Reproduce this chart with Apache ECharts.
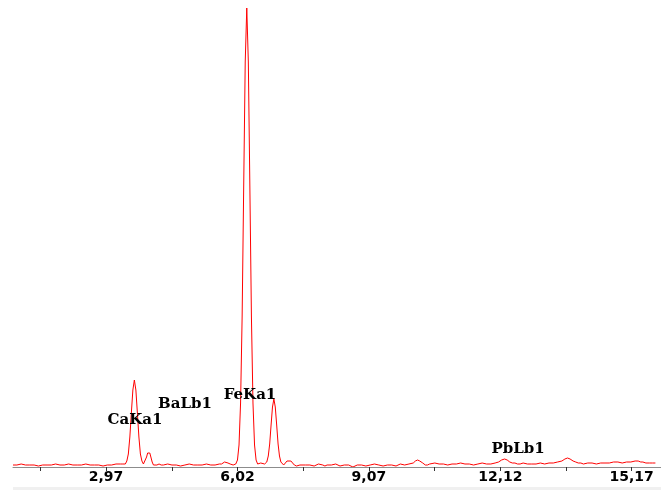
<!DOCTYPE html>
<html>
<head>
<meta charset="utf-8">
<script src="https://cdn.jsdelivr.net/npm/echarts@6/dist/echarts.min.js"></script>
<style>
html,body{margin:0;padding:0;background:#fff;}
#chart{width:661px;height:490px;}
</style>
</head>
<body>
<div id="chart"></div>
<script>
// Energy (keV) of each sampled point
var energy = [
0.81,0.9,1.0,1.1,1.2,1.3,1.4,1.5,1.6,1.7,1.8,1.9,2.0,2.1,2.2,2.3,2.4,2.5,2.6,2.7,2.8,2.9,3.0,3.1,3.2,3.3,3.36,
3.417,3.452,3.487,3.522,3.557,3.592,3.627,3.662,3.697,3.732,3.767,3.802,3.837,
3.88,3.91,3.935,3.96,3.985,4.01,4.04,4.07,4.10,4.15,4.2,4.25,4.3,
4.4,4.5,4.6,4.7,4.8,4.9,5.0,5.1,5.2,5.3,5.4,5.5,5.6,
5.65,5.72,5.76,5.80,5.85,5.92,5.98,
6.020,6.056,6.092,6.128,6.164,6.200,6.236,6.272,6.308,6.344,6.380,6.416,6.452,6.488,6.524,
6.56,6.60,6.65,6.70,
6.735,6.7675,6.80,6.8325,6.865,6.8975,6.93,6.9625,6.995,7.0275,7.06,7.0925,7.125,
7.17,7.21,7.26,7.30,7.34,7.39,7.43,7.47,
7.5,7.6,7.7,7.8,7.9,8.0,8.05,8.1,8.2,8.3,8.4,8.5,8.6,8.7,8.8,8.9,9.0,9.1,9.2,9.3,9.4,9.5,9.6,9.7,9.8,9.9,10.0,
10.10,10.15,10.20,10.25,10.32,10.38,10.43,10.48,10.52,
10.6,10.7,10.8,10.9,11.0,11.1,11.2,11.3,11.4,11.5,11.6,11.7,11.8,11.9,12.0,
12.08,12.15,12.22,12.28,12.34,12.40,12.46,12.52,12.58,12.65,12.75,12.85,12.95,13.05,13.15,13.25,
13.35,13.45,13.55,13.62,13.68,13.74,13.81,13.87,13.93,13.99,14.05,14.15,14.25,14.35,14.45,14.55,14.65,14.75,14.85,14.95,15.05,15.15,
15.25,15.32,15.38,15.43,15.5,15.58,15.65,15.72,15.8,15.85
];
// Counts at each energy
var counts = [
2,2,3,2,2,2,1,2,2,2,3,2,2,3,2,2,2,3,2,2,2,1,2,2,3,3,3,
3,6,13,30,54,77,87,77,54,30,13,6,3,
5,10,14,16,14,10,5,2,1,2,3,2,2,
3,2,2,1,2,3,2,2,2,3,2,2,3,
3,5,6,4,3,2,3,
7,22,64,150,279,405,459,405,279,150,64,22,7,
3,2,4,3,
3,5,11,23,42,60,68,60,42,23,11,5,3,
2,4,6,7,6,4,2,1,
1,2,0,2,2,1,3,2,1,2,2,3,1,2,2,0,2,2,1,2,3,2,1,2,2,1,3,
2,3,4,6,7,6,4,2,2,
3,3,4,3,3,2,3,3,4,3,3,2,3,4,3,
3,4,5,7,8,7,5,4,4,3,3,4,3,3,3,4,
3,4,4,5,6,8,9,8,6,5,4,4,3,4,4,3,4,4,4,5,5,4,
5,5,6,6,5,5,4,4,4,4
];
// Axis ticks and labels
var tickValues = [1.445,2.97,4.495,6.02,7.545,9.07,10.595,12.12,13.645,15.17];
var labelValues = [2.97,6.02,9.07,12.12,15.17];
var labelTexts = ['2,97','6,02','9,07','12,12','15,17'];
// Peak annotations
var peakNames = ['CaKa1','BaLb1','FeKa1','PbLb1'];

var pts = energy.map(function(e,i){return [e, counts[i]];});
var chart = echarts.init(document.getElementById('chart'));
var annotFont = 'bold 15px "DejaVu Serif"';
var annotPos = [[135,420],[185,404],[250,395],[518,449]];
chart.setOption({
  animation:false,
  backgroundColor:'#ffffff',
  grid:{left:13,right:0,top:8,bottom:23},
  xAxis:{
    type:'value', min:0.81, max:15.85, z:3,
    axisLine:{show:true, lineStyle:{color:'#8c8c8c', width:1}},
    axisTick:{show:true, customValues:tickValues, length:4, lineStyle:{color:'#333333'}},
    axisLabel:{show:true, customValues:labelValues, margin:3,
      formatter:function(v){var i=labelValues.indexOf(v); return i>=0?labelTexts[i]:'';},
      color:'#000000', fontWeight:'bold', fontSize:14, fontFamily:'DejaVu Sans'},
    splitLine:{show:false}
  },
  yAxis:{type:'value', min:0, max:459, show:false, splitLine:{show:false}},
  series:[{
    type:'line', data:pts, showSymbol:false, symbol:'none',
    lineStyle:{color:'#ff0000', width:1},
    z:2
  }],
  graphic:[
    {type:'rect', shape:{x:13,y:487,width:648,height:3}, style:{fill:'#f0f0f0'}, silent:true}
  ].concat(peakNames.map(function(n,i){
    return {type:'text', x:annotPos[i][0], y:annotPos[i][1], z:10,
      style:{text:n, font:annotFont, fill:'#000000', align:'center', verticalAlign:'middle'}};
  }))
});
</script>
</body>
</html>
